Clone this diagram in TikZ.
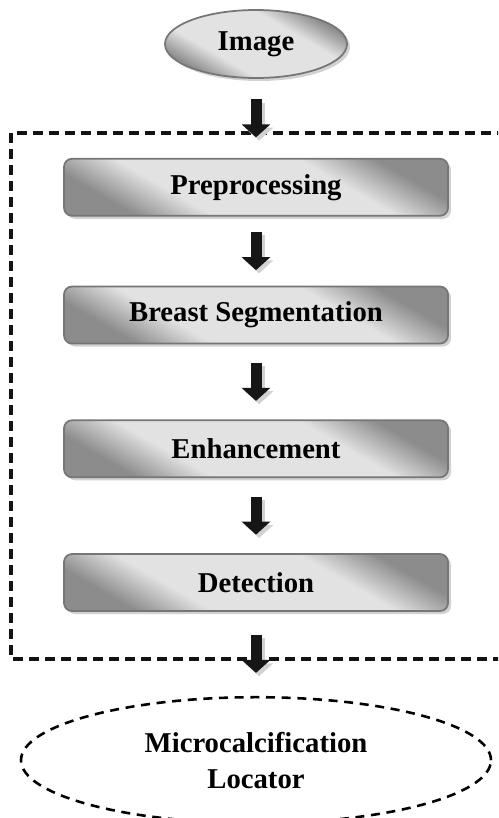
\documentclass[tikz,border=0pt]{standalone}
\usepackage{fontspec}
\setmainfont{Liberation Serif}
\usetikzlibrary{shapes.geometric,arrows.meta,positioning,calc,shadows}
\definecolor{cEdge}{RGB}{118,118,118}
\definecolor{cDark}{RGB}{140,140,140}
\definecolor{cLight}{RGB}{226,226,226}
\definecolor{cShadow}{RGB}{210,210,210}
\definecolor{cArrow}{RGB}{22,22,22}
\definecolor{cFrame}{RGB}{20,20,20}
\pgfdeclareverticalshading{stageshade}{100bp}{color(0bp)=(cDark); color(26bp)=(cDark);
  color(37bp)=(cLight); color(63bp)=(cLight); color(74bp)=(cDark); color(100bp)=(cDark)}
\tikzset{
  basebox/.style={align=center,font=\fontsize{24.5}{31}\selectfont\bfseries},
  stagebox/.style={basebox,rectangle,rounded corners=0.24cm,draw=cEdge,line width=1.5pt,
                   shading=stageshade,shading angle=150,
                   minimum width=11.52cm,minimum height=1.71cm,
                   drop shadow={shadow xshift=0.09cm,shadow yshift=-0.09cm,
                                fill=cShadow,opacity=1}},
  inputnode/.style={basebox,ellipse,draw=cEdge,line width=1.5pt,
                    shading=stageshade,shading angle=150,
                    minimum width=5.46cm,minimum height=2.04cm,
                    drop shadow={shadow xshift=0.09cm,shadow yshift=-0.09cm,
                                 fill=cShadow,opacity=1}},
  outputnode/.style={basebox,ellipse,draw=black,line width=2.2pt,
                     dash pattern=on 0.27cm off 0.2cm,
                     minimum width=14.1cm,minimum height=3.78cm},
  dashframe/.style={draw=cFrame,line width=2.8pt,dash pattern=on 0.3cm off 0.18cm},
  blkarr/.style={-{Triangle[length=0.39cm,width=0.84cm]},line width=0.33cm,draw=cArrow},
  blkshadow/.style={-{Triangle[length=0.39cm,width=0.84cm]},line width=0.33cm,draw=cShadow}
}
\begin{document}
\begin{tikzpicture}[node distance=2.25cm]
  \useasboundingbox (0,0) rectangle (14.94,-24.54);
  \clip (0,0) rectangle (14.94,-24.54);

  % input
  \node[inputnode] (img) at (7.68,-1.32) {Image};

  % processing stages
  \node[stagebox, below=2.37cm of img] (prep) {Preprocessing};
  \node[stagebox, below=2.07cm of prep] (seg) {Breast Segmentation};
  \node[stagebox, below=of seg] (enh) {Enhancement};
  \node[stagebox, below=of enh] (det) {Detection};

  % output
  \node[outputnode, below=2.52cm of det] (loc) {Microcalcification\\Locator};

  % system frame
  \draw[dashframe] ($(prep.north west)+(-1.56,0.75)$) rectangle
                   ($(det.south east)+(1.8,-1.41)$);

  % block arrows
  \foreach \a/\b in {img/prep,prep/seg,seg/enh,enh/det,det/loc}{
    \coordinate (mid) at ($(\a.south)!.5!(\b.north)$);
    \begin{scope}[transform canvas={shift={(0.09,-0.1)}}]
      \draw[blkshadow] ($(mid)+(0,0.57)$) -- ($(mid)+(0,-0.57)$);
    \end{scope}
    \draw[blkarr] ($(mid)+(0,0.57)$) -- ($(mid)+(0,-0.57)$);
  }
\end{tikzpicture}
\end{document}
